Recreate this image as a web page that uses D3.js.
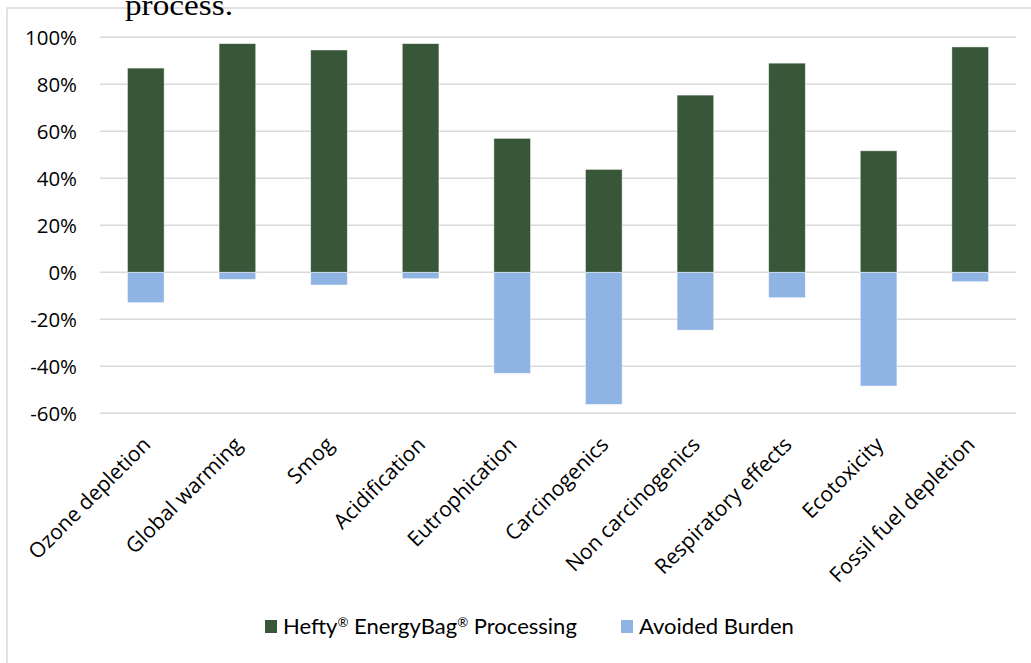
<!DOCTYPE html>
<html>
<head>
<meta charset="utf-8">
<script src="https://cdn.jsdelivr.net/npm/d3@7"></script>
<style>
  html, body { margin: 0; padding: 0; background: #fff; }
  svg { display: block; }
</style>
</head>
<body>
<svg id="chart" width="1031" height="663"></svg>
<script>
const categories = ["Ozone depletion", "Global warming", "Smog", "Acidification", "Eutrophication",
  "Carcinogenics", "Non carcinogenics", "Respiratory effects", "Ecotoxicity", "Fossil fuel depletion"];
const processing = [0.869, 0.973, 0.946, 0.973, 0.570, 0.438, 0.754, 0.890, 0.517, 0.959];
const avoided = [-0.129, -0.030, -0.054, -0.027, -0.430, -0.562, -0.246, -0.108, -0.484, -0.040];
const yTicks = [-0.6, -0.4, -0.2, 0, 0.2, 0.4, 0.6, 0.8, 1.0];
const yTickLabels = ["-60%", "-40%", "-20%", "0%", "20%", "40%", "60%", "80%", "100%"];
const seriesNames = ["Hefty\u00AE EnergyBag\u00AE Processing", "Avoided Burden"];
const colors = ["#385738", "#8fb3e3"];

const svg = d3.select("#chart");
const font = "'Open Sans', sans-serif";

// font size so that a sample string has a given width
function fitSize(str, family, targetWidth) {
  const t = svg.append("text").attr("font-family", family).attr("font-size", 20).text(str);
  const w = t.node().getComputedTextLength();
  t.remove();
  return 20 * targetWidth / w;
}
const tickSize = fitSize("100%", font, 52);
const catSize = fitSize("Fossil fuel depletion", font, 195);

// Chart border (cut off at top/right/bottom as in the reference)
svg.append("rect").attr("x", 7).attr("y", 8).attr("width", 1040).attr("height", 680)
  .attr("fill", "none").attr("stroke", "#d9d9d9").attr("stroke-width", 1.5);

// Partially visible caption above the chart
svg.append("text").attr("x", 125).attr("y", 15)
  .attr("font-family", "'Liberation Serif', serif").attr("font-size", 30)
  .attr("textLength", 108).attr("lengthAdjust", "spacingAndGlyphs")
  .attr("fill", "#000").text("process.");

const x = d3.scaleBand().domain(categories).range([100, 1016]).paddingInner(0.6).paddingOuter(0.3);
const y = d3.scaleLinear().domain([-0.6, 1.0]).range([413.3, 37.3]);

// Gridlines
svg.append("g").selectAll("line").data(yTicks).join("line")
  .attr("x1", 100).attr("x2", 1016)
  .attr("y1", d => y(d)).attr("y2", d => y(d))
  .attr("stroke", "#d9d9d9").attr("stroke-width", 1.5);

// Y axis labels
const yAxis = d3.axisLeft(y).tickValues(yTicks)
  .tickFormat((d, i) => yTickLabels[i]).tickSize(0).tickPadding(0);
const gy = svg.append("g").attr("transform", "translate(77,0)").call(yAxis);
gy.select(".domain").remove();
gy.selectAll("text").attr("font-family", font).attr("font-size", tickSize).attr("fill", "#000")
  .attr("dy", "0.35em");

// Bars
svg.append("g").selectAll("rect").data(categories).join("rect")
  .attr("x", d => x(d)).attr("width", x.bandwidth())
  .attr("y", (d, i) => y(processing[i])).attr("height", (d, i) => y(0) - y(processing[i]))
  .attr("fill", colors[0]).attr("stroke", "#fff").attr("stroke-opacity", 0.6).attr("stroke-width", 0.75);
svg.append("g").selectAll("rect").data(categories).join("rect")
  .attr("x", d => x(d)).attr("width", x.bandwidth())
  .attr("y", y(0)).attr("height", (d, i) => y(avoided[i]) - y(0))
  .attr("fill", colors[1]).attr("stroke", "#fff").attr("stroke-opacity", 0.6).attr("stroke-width", 0.75);

// Category labels
svg.append("g").selectAll("text").data(categories).join("text")
  .attr("transform", d => `translate(${x(d) + x.bandwidth() / 2 + 6},446) rotate(-45)`)
  .attr("text-anchor", "end")
  .attr("font-family", font).attr("font-size", catSize).attr("fill", "#000")
  .text(d => d);

// Legend
const legFont = "Lato, sans-serif";
const legSize = fitSize("Avoided Burden", legFont, 155);
const legendItems = [
  { parts: ["Hefty", "\u00AE", " EnergyBag", "\u00AE", " Processing"], color: colors[0], x: 265 },
  { parts: [seriesNames[1]], color: colors[1], x: 621 }
];
const lg = svg.append("g");
legendItems.forEach(it => {
  lg.append("rect").attr("x", it.x).attr("y", 620).attr("width", 12).attr("height", 13).attr("fill", it.color);
  const t = lg.append("text").attr("x", it.x + 18).attr("y", 634)
    .attr("font-family", legFont).attr("font-size", legSize).attr("fill", "#000");
  it.parts.forEach(p => {
    if (p === "\u00AE") {
      t.append("tspan").attr("font-size", legSize * 0.6).attr("dy", -7).text(p);
    } else {
      const ts = t.append("tspan").text(p);
      if (p !== it.parts[0]) ts.attr("dy", 7);
    }
  });
});
</script>
</body>
</html>
